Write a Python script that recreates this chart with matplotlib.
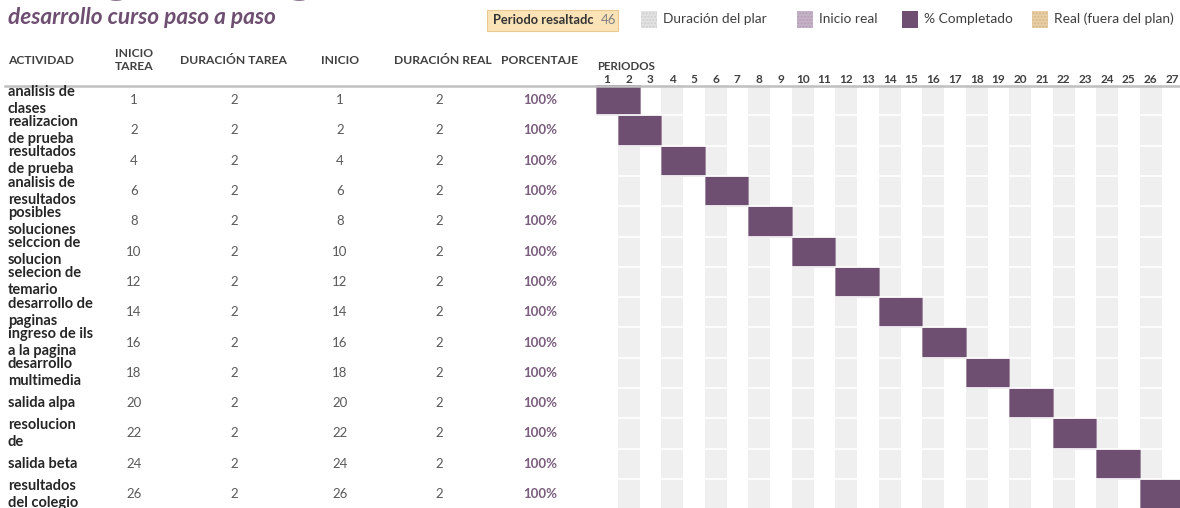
import matplotlib.pyplot as plt
from matplotlib.patches import Rectangle
from matplotlib.transforms import blended_transform_factory

plt.rcParams['font.family'] = ['Lato', 'DejaVu Sans']

# datos del diagrama
actividades = ['analisis de\nclases', 'realizacion\nde prueba', 'resultados\nde prueba',
               'analisis de\nresultados', 'posibles\nsoluciones', 'selccion de\nsolucion',
               'selecion de\ntemario', 'desarrollo de\npaginas', 'ingreso de ils\na la pagina',
               'desarrollo\nmultimedia', 'salida alpa', 'resolucion\nde', 'salida beta',
               'resultados\ndel colegio']
inicio_tarea = [1, 2, 4, 6, 8, 10, 12, 14, 16, 18, 20, 22, 24, 26]
duracion_tarea = [2, 2, 2, 2, 2, 2, 2, 2, 2, 2, 2, 2, 2, 2]
inicio_real = [1, 2, 4, 6, 8, 10, 12, 14, 16, 18, 20, 22, 24, 26]
duracion_real = [2, 2, 2, 2, 2, 2, 2, 2, 2, 2, 2, 2, 2, 2]
porcentaje = [100, 100, 100, 100, 100, 100, 100, 100, 100, 100, 100, 100, 100, 100]
periodos = list(range(1, 28))
periodo_resaltado = 46

columnas = ['ACTIVIDAD', 'INICIO\nTAREA', 'DURACIÓN TAREA', 'INICIO', 'DURACIÓN REAL', 'PORCENTAJE']
leyenda = ['Duración del plar', 'Inicio real', '% Completado', 'Real (fuera del plan)']

morado = '#6e4f71'
gris_txt = '#595959'
W, H = 1180, 508


def fx(px):
    return px / W


def fy(py):
    return 1 - py / H


fig = plt.figure(figsize=(11.8, 5.08), dpi=100)

# zona de periodos
ancho = 21.75
alto = 30.3
ax = fig.add_axes([fx(596), 0, fx(1180) - fx(596), fy(85)])
n = len(actividades)
ax.set_xlim(1, 1 + (1180 - 596) / ancho)
ax.set_ylim((508 - 85) / alto, 0)
ax.axis('off')
for p in periodos:
    if p % 2 == 0:
        ax.axvspan(p, p + 1, color='#efefef', lw=0)
for i in range(1, n):
    ax.axhline(i, color='white', lw=1.2)
filas = [i + 0.5 for i in range(n)]
ax.barh(filas, duracion_real, left=inicio_real, height=1.0,
        color=morado, edgecolor='#a08aa2', lw=0.7)

tx = blended_transform_factory(ax.transData, fig.transFigure)
for p in periodos:
    ax.text(p + 0.5, fy(80), str(p), transform=tx, ha='center', va='center',
            fontsize=8.5, fontweight='bold', color='#404040')
fig.text(fx(597), fy(66), 'PERIODOS', ha='left', va='center', fontsize=8.3,
         fontweight='bold', color='#404040')

# linea de encabezado
fig.add_artist(plt.Line2D([fx(5), 1], [fy(86), fy(86)], color='#c0c0c0', lw=1.8))

# titulo (cortado arriba)
fig.text(fx(8), fy(-12), 'Diagrama gantt', ha='left', va='baseline', fontsize=44,
         fontweight='bold', color=morado)
fig.text(fx(8), fy(18), 'desarrollo curso paso a paso', ha='left', va='center',
         fontsize=16.3, fontweight='bold', fontstyle='italic', color=morado)

# encabezados de tabla
pos_col = [8, 134, 233, 340, 443, 540]
for j, (c, x) in enumerate(zip(columnas, pos_col)):
    fig.text(fx(x), fy(60), c, ha='left' if j == 0 else 'center', va='center',
             fontsize=8.7, fontweight='bold', color='#404040', linespacing=1.3)

# filas de la tabla
ty = blended_transform_factory(fig.transFigure, ax.transData)
for i in range(n):
    y = filas[i]
    fig.text(fx(8), y, actividades[i], transform=ty, ha='left', va='center',
             fontsize=10.5, fontweight='bold', color='#262626', linespacing=1.28)
    fig.text(fx(134), y, str(inicio_tarea[i]), transform=ty, ha='center', va='center',
             fontsize=9.5, color=gris_txt)
    fig.text(fx(234), y, str(duracion_tarea[i]), transform=ty, ha='center', va='center',
             fontsize=9.5, color=gris_txt)
    fig.text(fx(340), y, str(inicio_real[i]), transform=ty, ha='center', va='center',
             fontsize=9.5, color=gris_txt)
    fig.text(fx(439), y, str(duracion_real[i]), transform=ty, ha='center', va='center',
             fontsize=9.5, color=gris_txt)
    fig.text(fx(540), y, f'{porcentaje[i]}%', transform=ty, ha='center', va='center',
             fontsize=9.5, fontweight='bold', color='#7a5c7d')

# periodo resaltado
fig.add_artist(Rectangle((fx(487), fy(31)), fx(131), 21 / H, transform=fig.transFigure,
                         facecolor='#fbe3b8', edgecolor='#e9c98f', lw=0.8))
fig.text(fx(493), fy(20), 'Periodo resaltadc', ha='left', va='center', fontsize=9.3,
         fontweight='bold', color='#333333')
fig.text(fx(601), fy(20), str(periodo_resaltado), ha='left', va='center', fontsize=9.5,
         color='#7f7f7f')

# leyenda
sw_x = [641, 797, 902, 1032]
sw_fc = ['#e2e2e2', '#c6b3c8', morado, '#e8cfa8']
sw_hatch = ['.....', '.....', None, '.....']
sw_ec = ['#cfcfcf', '#b49db7', morado, '#d8b887']
for lab, x, fc, h, ec in zip(leyenda, sw_x, sw_fc, sw_hatch, sw_ec):
    fig.add_artist(Rectangle((fx(x), fy(28)), fx(16), 17 / H, transform=fig.transFigure,
                             facecolor=fc, edgecolor=ec, hatch=h, lw=0))
    fig.text(fx(x + 22), fy(19), lab, ha='left', va='center', fontsize=9.9, color='#404040')

fig.savefig('out.png', dpi=100)
